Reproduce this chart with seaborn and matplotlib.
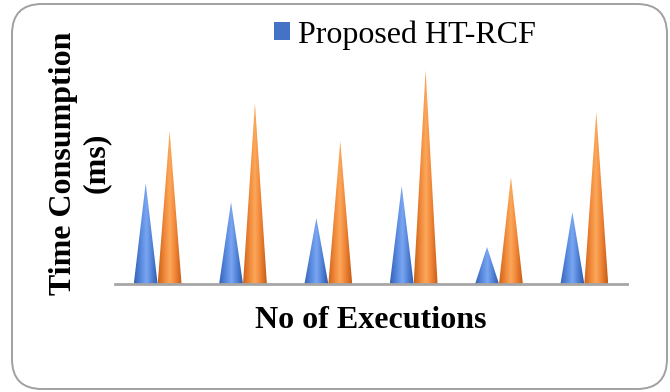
import numpy as np
import pandas as pd
import matplotlib
matplotlib.use("Agg")
import matplotlib.pyplot as plt
import seaborn as sns
from matplotlib.patches import Polygon, Patch, FancyBboxPatch
from matplotlib.colors import LinearSegmentedColormap
from matplotlib.transforms import IdentityTransform

# Time consumption per execution run (ms)
executions = ["1", "2", "3", "4", "5", "6"]
proposed_ht_rcf = [101, 82, 66, 98, 37, 72]
existing_method = [153, 181, 143, 214, 107, 172]
series_names = ["Proposed HT-RCF", "Existing Method"]

df = pd.DataFrame({
    "Execution": executions * 2,
    "Time": proposed_ht_rcf + existing_method,
    "Method": [series_names[0]] * len(executions) + [series_names[1]] * len(executions),
})

sns.set_theme(style="white")
plt.rcParams["font.family"] = ["Liberation Serif", "DejaVu Serif"]
plt.rcParams["text.color"] = "black"

BLUE = "#4472C4"
ORANGE = "#ED7D31"

fig = plt.figure(figsize=(6.7, 3.92), dpi=100)
ax = fig.add_axes([115 / 670, 108 / 392, 512 / 670, 224 / 392])

sns.barplot(data=df, x="Execution", y="Time", hue="Method", hue_order=series_names,
            palette=[BLUE, ORANGE], width=0.56, saturation=1, legend=False, ax=ax)

# Shaded cone gradients (dark edges, bright centre)
cmaps = {
    "blue": LinearSegmentedColormap.from_list("cone_blue", [
        (0.0, "#3461B4"), (0.3, "#5A8BE0"), (0.52, "#7AA6F2"),
        (0.75, "#5282D6"), (1.0, "#2E5AA8")]),
    "orange": LinearSegmentedColormap.from_list("cone_orange", [
        (0.0, "#CC6219"), (0.3, "#F38C3E"), (0.5, "#FCA85B"),
        (0.72, "#F08536"), (1.0, "#C45C16")]),
}
grad = np.linspace(0, 1, 256).reshape(1, -1)

for bar in list(ax.patches):
    x0 = bar.get_x()
    w = bar.get_width()
    h = bar.get_height()
    if h <= 0:
        continue
    r, g, b, _ = bar.get_facecolor()
    key = "blue" if b > r else "orange"
    x1 = x0 + w
    tri = Polygon([(x0, 0), (x1, 0), ((x0 + x1) / 2, h)], closed=True,
                  facecolor="none", edgecolor="none", transform=ax.transData)
    im = ax.imshow(grad, cmap=cmaps[key], vmin=0, vmax=1, extent=(x0, x1, 0, h),
                   aspect="auto", interpolation="bilinear", zorder=3)
    im.set_clip_path(tri)
    bar.set_visible(False)

ax.set_xlim(-0.5, 5.5)
ax.set_ylim(0, 224)
ax.set_xticks([])
ax.set_yticks([])
ax.set_xlabel("")
ax.set_ylabel("")
for side in ["top", "right", "left"]:
    ax.spines[side].set_visible(False)
ax.spines["bottom"].set_color("#A6A6A6")
ax.spines["bottom"].set_linewidth(2)
ax.spines["bottom"].set_zorder(5)
ax.patch.set_alpha(0)

# Axis titles
fig.text(371 / 670, 1 - 321 / 392, "No of Executions", ha="center", va="center",
         fontsize=23, fontweight="bold", color="black")
fig.text(80 / 670, 1 - 163 / 392, "Time Consumption\n(ms)", ha="center", va="center",
         rotation=90, fontsize=23, fontweight="bold", multialignment="center",
         linespacing=1.2, color="black")

# Legend
fig.legend(handles=[Patch(facecolor=BLUE, edgecolor="none")], labels=[series_names[0]],
           loc="center", bbox_to_anchor=(405 / 670, 1 - 35 / 392), frameon=False,
           prop={"family": "Liberation Serif", "size": 23},
           handlelength=0.48, handleheight=0.48, handletextpad=0.25)

# Rounded chart frame
frame = FancyBboxPatch((12, 3), 655, 385, boxstyle="round,pad=0,rounding_size=30",
                       transform=IdentityTransform(), facecolor="none",
                       edgecolor="#A0A0A0", linewidth=1.4, zorder=0)
fig.patches.append(frame)

fig.savefig("out.png", dpi=100)
